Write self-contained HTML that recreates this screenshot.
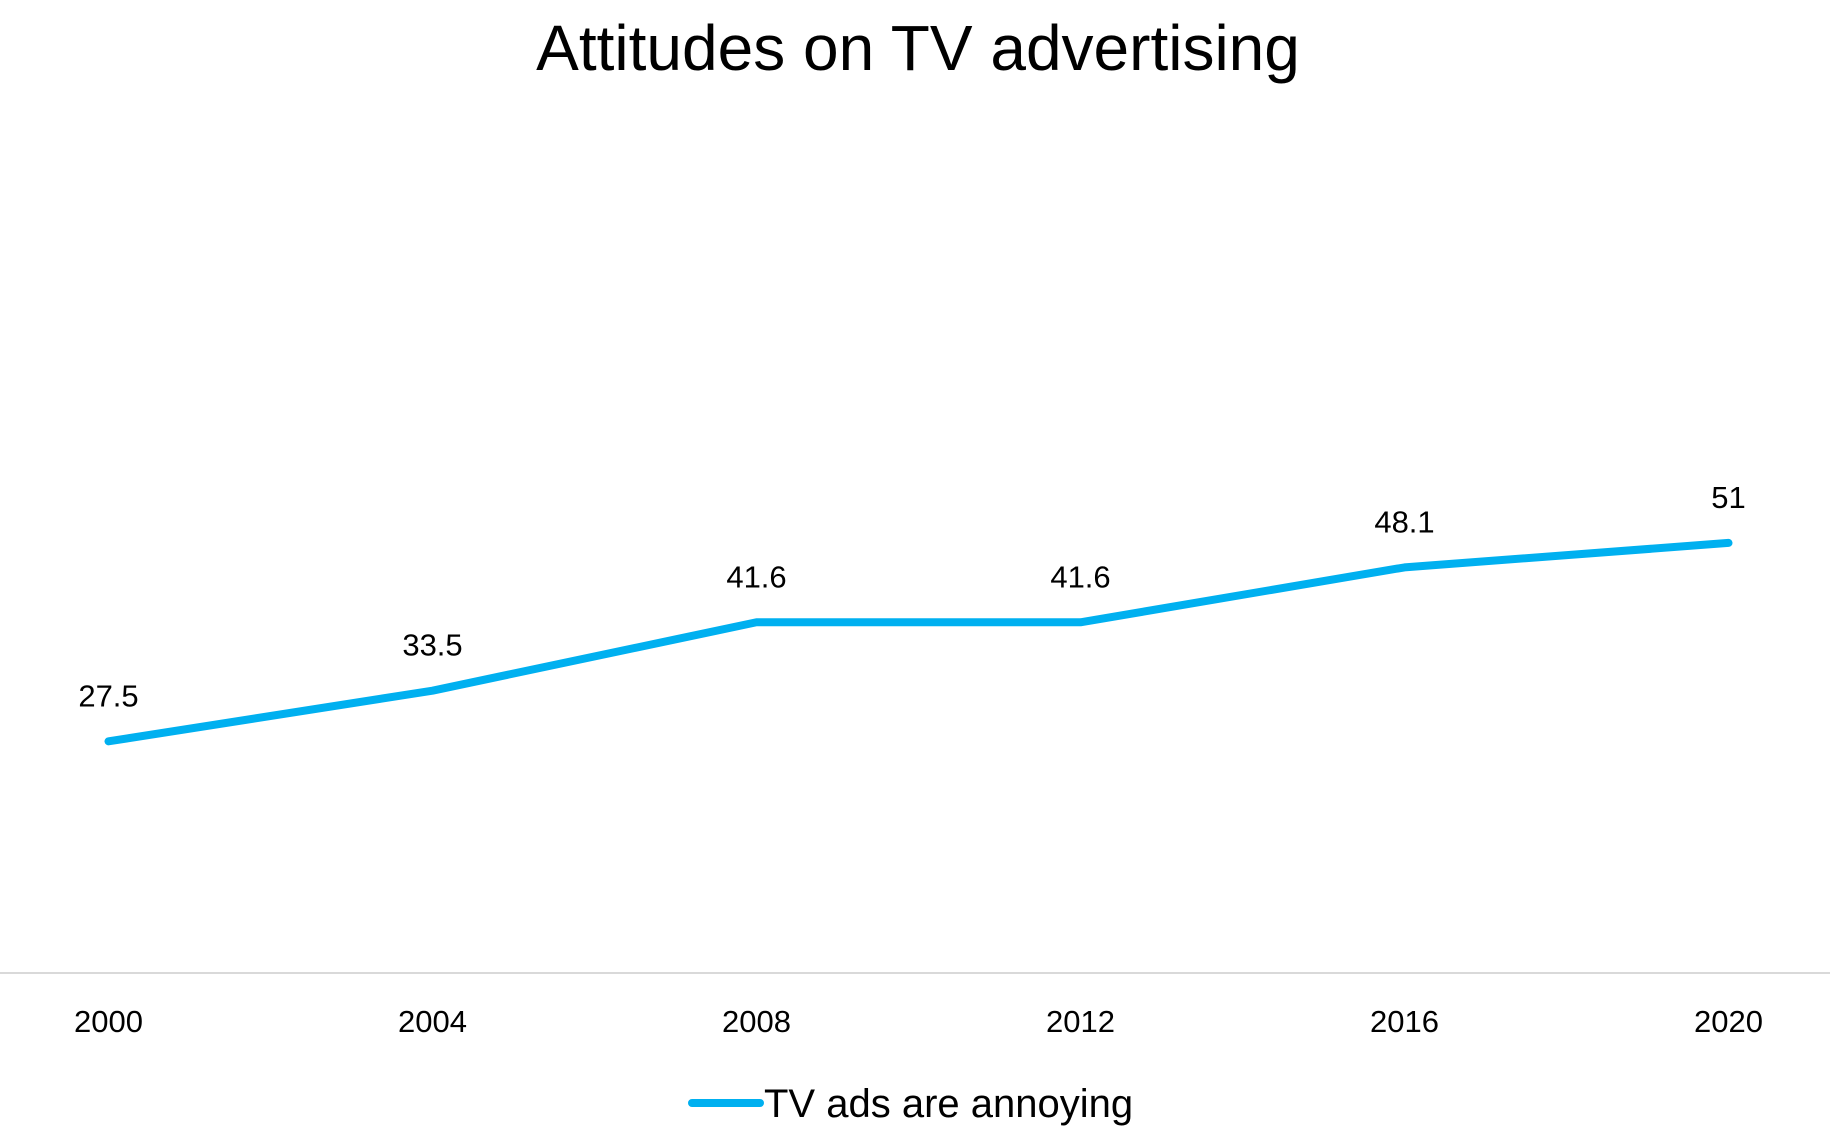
<!DOCTYPE html>
<html><head><meta charset="utf-8"><style>
html,body{margin:0;padding:0;background:#fff;}
svg{display:block;font-family:"Liberation Sans",sans-serif;}
</style></head><body>
<svg id="chart" width="1830" height="1138" viewBox="0 0 1830 1138">
<text x="918" y="70" text-anchor="middle" font-size="64" fill="#000">Attitudes on TV advertising</text>
<line x1="0" y1="973" x2="1830" y2="973" stroke="#d9d9d9" stroke-width="2"/>
<g id="xticks"></g>
<g id="series"></g>
<g id="labels"></g>
<g>
<line x1="692" y1="1103" x2="760" y2="1103" stroke="#00b0f0" stroke-width="8" stroke-linecap="round"/>
<text x="764" y="1117" font-size="40" fill="#000">TV ads are annoying</text>
</g>
</svg>
<script>
const categories = ["2000","2004","2008","2012","2016","2020"];
const values = [27.5, 33.5, 41.6, 41.6, 48.1, 51];
const valueLabels = ["27.5","33.5","41.6","41.6","48.1","51"];
const NS = "http://www.w3.org/2000/svg";
function xPos(i){ return 108.5 + i * (1728.5 - 108.5) / (categories.length - 1); }
function yPos(v){ return 973.5 - v * 8.443; }
const xt = document.getElementById('xticks');
categories.forEach((c,i)=>{
  const t = document.createElementNS(NS,'text');
  t.setAttribute('x', xPos(i)); t.setAttribute('y', 1032);
  t.setAttribute('text-anchor','middle'); t.setAttribute('font-size','31');
  t.textContent = c;
  
  
  xt.appendChild(t);
});
const pts = values.map((v,i)=>xPos(i)+','+yPos(v)).join(' ');
const pl = document.createElementNS(NS,'polyline');
pl.setAttribute('points', pts); pl.setAttribute('fill','none');
pl.setAttribute('stroke','#00b0f0'); pl.setAttribute('stroke-width','8');
pl.setAttribute('stroke-linecap','round'); pl.setAttribute('stroke-linejoin','round');


document.getElementById('series').appendChild(pl);
const lg = document.getElementById('labels');
values.forEach((v,i)=>{
  const t = document.createElementNS(NS,'text');
  t.setAttribute('x', xPos(i)); t.setAttribute('y', yPos(v) - 35);
  t.setAttribute('text-anchor','middle'); t.setAttribute('font-size','31');
  t.textContent = valueLabels[i];
  
  
  lg.appendChild(t);
});
</script>
</body></html>
